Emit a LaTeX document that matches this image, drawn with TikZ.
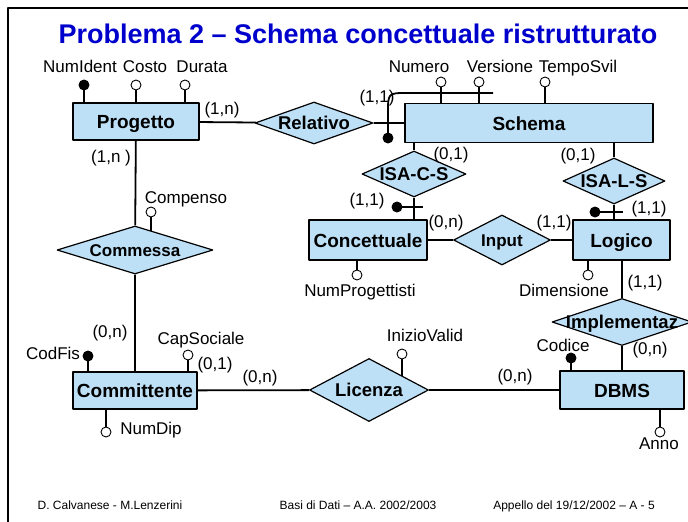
\documentclass[tikz,border=0pt]{standalone}
\usepackage{fontspec}
\setmainfont{Liberation Sans}
\usetikzlibrary{shapes.geometric}
\pgfdeclarelayer{bg}
\pgfsetlayers{bg,main}
\definecolor{erfill}{RGB}{190,224,247}
\definecolor{titleblu}{RGB}{0,0,204}
\tikzset{
	entity/.style={draw, line width=1.2pt, fill=erfill, inner sep=0pt, text height=18pt, text depth=4pt, font=\fontsize{19}{21}\selectfont\bfseries},
	relship/.style={diamond, draw, line width=1.2pt, fill=erfill, inner sep=0pt},
	rtext/.style={inner sep=0pt, text height=17pt, text depth=4pt, font=\fontsize{18.5}{20}\selectfont\bfseries},
	attr/.style={circle, draw, line width=0.9pt, fill=white, inner sep=0pt, minimum size=10pt},
	keyattr/.style={attr, fill=black},
	lbl/.style={inner sep=0pt, text height=12pt, text depth=3.5pt, font=\fontsize{17}{19}\selectfont},
	conn/.style={line width=1.8pt},
	foot/.style={inner sep=0pt, text height=9pt, text depth=2.5pt, font=\fontsize{12}{14}\selectfont}
}
\begin{document}
\begin{tikzpicture}[x=1pt, y=-1pt, line join=round]
	\useasboundingbox (0,0) rectangle (688,522);
	\draw[line width=2.5pt] (8,522)--(8,8)--(688,8);
	\node[text=titleblu, inner sep=0pt, text height=19.5pt, text depth=5.5pt, font=\fontsize{27}{30}\selectfont\bfseries] (title) at (358,36) {Problema 2 – Schema concettuale ristrutturato};
	% entita
	\node[entity, minimum width=126pt, minimum height=37pt] (progetto) at (136,121.5) {Progetto};
	\node[entity, minimum width=248pt, minimum height=39pt] (schema) at (529,123) {Schema};
	\node[entity, minimum width=118pt, minimum height=40pt] (concettuale) at (368,240) {Concettuale};
	\node[entity, minimum width=97pt, minimum height=40pt] (logico) at (621.5,240) {Logico};
	\node[entity, minimum width=124pt, minimum height=37pt] (committente) at (135,390.5) {Committente};
	\node[entity, minimum width=124pt, minimum height=38pt] (dbms) at (622,390) {DBMS};
	% relazioni
	\node[relship, minimum width=118pt, minimum height=42pt] (relativo) at (314,123) {};
	\node[relship, minimum width=104pt, minimum height=46pt] (isacs) at (414,174) {};
	\node[relship, minimum width=102pt, minimum height=46pt] (isals) at (614,181) {};
	\node[relship, minimum width=156pt, minimum height=48pt] (commessa) at (135,250) {};
	\node[relship, minimum width=97pt, minimum height=50pt] (input) at (502,240) {};
	\node[relship, minimum width=119pt, minimum height=63pt] (licenza) at (369,390) {};
	\node[relship, minimum width=140pt, minimum height=47pt] (implementaz) at (622,322) {};
	\node[rtext] (relativoT) at (relativo) {Relativo};
	\node[rtext] (isacsT) at (isacs) {ISA-C-S};
	\node[rtext] (isalsT) at (isals) {ISA-L-S};
	\node[rtext, font=\fontsize{17}{19}\selectfont\bfseries] (commessaT) at (commessa) {Commessa};
	\node[rtext, font=\fontsize{17}{19}\selectfont\bfseries] (inputT) at (input) {Input};
	\node[rtext] (licenzaT) at (licenza) {Licenza};
	\node[rtext] (implementazT) at (implementaz) {Implementaz};
	% attributi
	\node[keyattr] (numident) at (84,85) {};
	\node[attr] (costo) at (136,85) {};
	\node[attr] (durata) at (185,85) {};
	\node[attr] (numero) at (441,82) {};
	\node[attr] (versione) at (479,82) {};
	\node[attr] (temposvil) at (545,82) {};
	\node[attr] (compenso) at (151,212) {};
	\node[attr] (numprog) at (357,275) {};
	\node[attr] (dimensione) at (588,275) {};
	\node[keyattr] (codfis) at (88,356) {};
	\node[attr] (capsociale) at (188,355) {};
	\node[attr] (numdip) at (106,432) {};
	\node[attr] (iniziovalid) at (402,354) {};
	\node[keyattr] (codice) at (571,358) {};
	\node[attr] (anno) at (660,432) {};
	\node[lbl] (numidentL) at (80,68) {NumIdent};
	\node[lbl] (costoL) at (145,68) {Costo};
	\node[lbl] (durataL) at (202,68) {Durata};
	\node[lbl] (numeroL) at (419,68) {Numero};
	\node[lbl] (versioneL) at (500,68) {Versione};
	\node[lbl] (temposvilL) at (578,68) {TempoSvil};
	\node[lbl] (compensoL) at (186,199) {Compenso};
	\node[lbl] (numprogL) at (360,292) {NumProgettisti};
	\node[lbl] (dimensioneL) at (564,292) {Dimensione};
	\node[lbl] (codfisL) at (53,355) {CodFis};
	\node[lbl] (capsocialeL) at (201,340) {CapSociale};
	\node[lbl] (numdipL) at (151,430) {NumDip};
	\node[lbl] (iniziovalidL) at (425,337) {InizioValid};
	\node[lbl] (codiceL) at (563,347) {Codice};
	\node[lbl] (annoL) at (659,445) {Anno};
	% cardinalita
	\node[lbl] (c1) at (222,110) {(1,n)};
	\node[lbl] (c2) at (377,98) {(1,1)};
	\node[lbl] (c3) at (111,158) {(1,n )};
	\node[lbl] (c4) at (110,333) {(0,n)};
	\node[lbl] (c5) at (215,365) {(0,1)};
	\node[lbl] (c6) at (260,378) {(0,n)};
	\node[lbl] (c7) at (515,377) {(0,n)};
	\node[lbl] (c8) at (451,155) {(0,1)};
	\node[lbl] (c9) at (367,201) {(1,1)};
	\node[lbl] (c10) at (578,156) {(0,1)};
	\node[lbl] (c11) at (649,209) {(1,1)};
	\node[lbl] (c12) at (446,223) {(0,n)};
	\node[lbl] (c13) at (554,223) {(1,1)};
	\node[lbl] (c14) at (645,283) {(1,1)};
	\node[lbl] (c15) at (650,350) {(0,n)};
	% identificatori
	\node[keyattr] (idS) at (388,138) {};
	\node[keyattr] (idC) at (397,207) {};
	\node[keyattr] (idL) at (595,212) {};
	\draw[conn] (idS.center)--(388,113) .. controls (388,93) .. (407,93)--(493,93);
	\draw[conn] (idC.center)--++(26,0);
	\draw[conn] (idL.center)--++(28,0);
	\begin{pgfonlayer}{bg}
		\draw[conn] (progetto)--(relativo)--(schema);
		\draw[conn] (progetto)--(commessa)--(commessa |- committente);
		\draw[conn] (committente)--(licenza)--(dbms);
		\draw[conn] (concettuale)--(input)--(logico);
		\draw[conn] (isacs |- schema)--(isacs)--(isacs |- concettuale);
		\draw[conn] (isals |- schema)--(isals)--(isals |- logico);
		\draw[conn] (implementaz |- logico)--(implementaz)--(implementaz |- dbms);
		\foreach \a/\e in {numident/progetto, costo/progetto, durata/progetto, numero/schema, versione/schema, temposvil/schema, compenso/commessa, numprog/concettuale, dimensione/logico, codfis/committente, capsociale/committente, numdip/committente, iniziovalid/licenza, codice/dbms, anno/dbms}
			\draw[conn] (\a)--(\a |- \e);
	\end{pgfonlayer}
	% pie di pagina
	\node[foot] (autori) at (110,506) {D. Calvanese - M.Lenzerini};
	\node[foot] (corso) at (358,506) {Basi di Dati – A.A. 2002/2003};
	\node[foot] (appello) at (574,506) {Appello del 19/12/2002 – A - 5};
\end{tikzpicture}
\end{document}
